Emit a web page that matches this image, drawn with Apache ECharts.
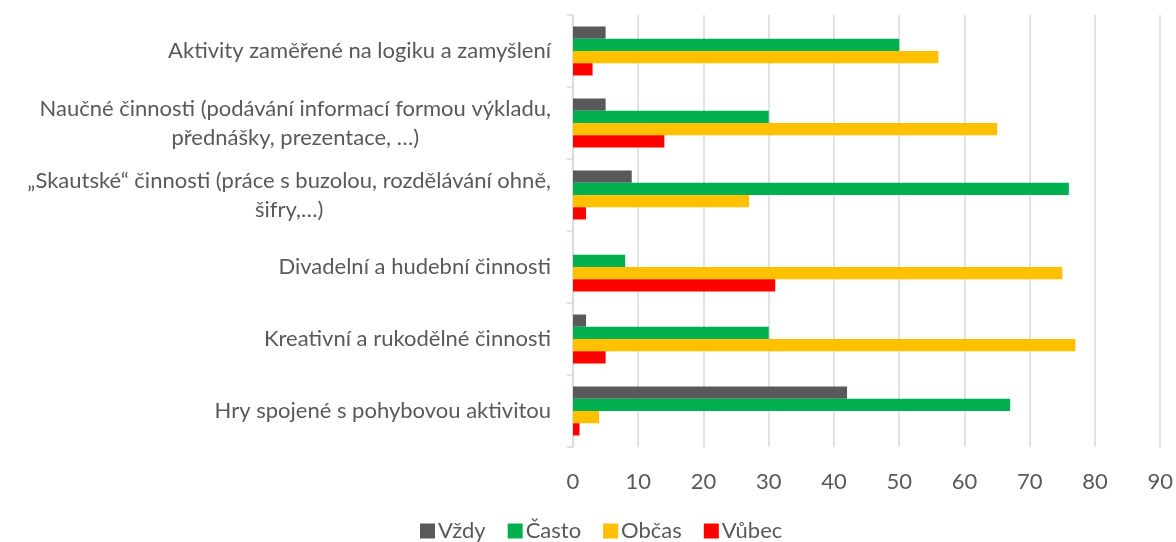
<!DOCTYPE html>
<html>
<head>
<meta charset="utf-8">
<script src="https://cdn.jsdelivr.net/npm/echarts@6/dist/echarts.min.js"></script>
<style>
  html, body { margin: 0; padding: 0; background: #fff; }
  #chart { width: 1176px; height: 542px; }
</style>
</head>
<body>
<div id="chart"></div>
<script>
// kategorie shora dolů
const categories = [
    'Aktivity zaměřené na logiku a zamyšlení',
    'Naučné činnosti (podávání informací formou výkladu,\npřednášky, prezentace, …)',
    '„Skautské“ činnosti (práce s buzolou, rozdělávání ohně,\nšifry,…)',
    'Divadelní a hudební činnosti',
    'Kreativní a rukodělné činnosti',
    'Hry spojené s pohybovou aktivitou'
];
const vzdy = [5, 5, 9, 0, 2, 42];
const casto = [50, 30, 76, 8, 30, 67];
const obcas = [56, 65, 27, 75, 77, 4];
const vubec = [3, 14, 2, 31, 5, 1];
const xTicks = [0, 10, 20, 30, 40, 50, 60, 70, 80, 90];

const names = ['Vždy', 'Často', 'Občas', 'Vůbec'];
const colors = ['#595959', '#00b050', '#ffc000', '#ff0000'];
const values = [vzdy, casto, obcas, vubec];

var myChart = echarts.init(document.getElementById('chart'));
var option = {
    animation: false,
    textStyle: { fontFamily: 'Lato' },
    grid: { left: 573, right: 15, top: 15, bottom: 95 },
    legend: {
        top: 520,
        left: 420,
        padding: 0,
        itemWidth: 15,
        itemHeight: 15,
        itemGap: 22,
        icon: 'rect',
        textStyle: { color: '#595959', fontSize: 22, fontFamily: 'Lato', padding: [0, 0, 0, -2] },
        data: names
    },
    xAxis: {
        type: 'value',
        min: 0,
        max: 90,
        interval: 10,
        axisLine: { show: false },
        axisTick: { show: false },
        splitLine: { show: true, lineStyle: { color: '#d9d9d9', width: 1.5 } },
        axisLabel: {
            margin: 24,
            color: '#595959',
            fontSize: 22,
            fontFamily: 'Lato',
            formatter: (v) => xTicks.indexOf(v) >= 0 ? String(v) : ''
        }
    },
    yAxis: {
        type: 'category',
        inverse: true,
        data: categories,
        axisLine: { show: true, lineStyle: { color: '#d9d9d9', width: 1.5 } },
        axisTick: { show: true, length: 6, lineStyle: { color: '#d9d9d9', width: 1.5 } },
        axisLabel: {
            margin: 22,
            color: '#595959',
            fontSize: 22,
            fontFamily: 'Lato',
            lineHeight: 29,
            formatter: (v) => v.split('\n').map(s => '{c|' + s + '}').join('\n'),
            rich: {
                c: { align: 'center', color: '#595959', fontSize: 22, fontFamily: 'Lato', lineHeight: 29 }
            }
        }
    },
    series: names.map((n, i) => ({
        name: n,
        type: 'bar',
        barGap: '0%',
        barCategoryGap: '32%',
        itemStyle: { color: colors[i] },
        data: values[i]
    }))
};
myChart.setOption(option);
</script>
</body>
</html>
